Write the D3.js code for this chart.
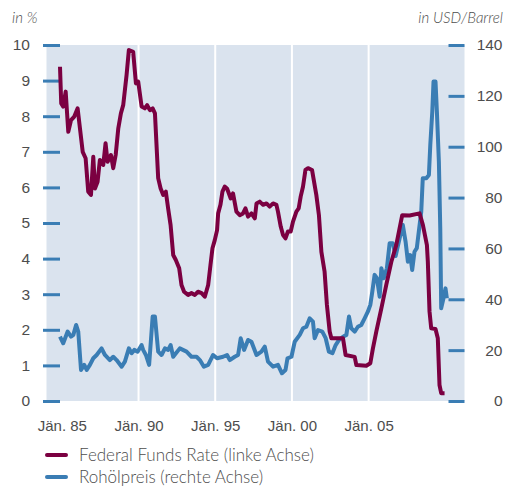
<!DOCTYPE html>
<html>
<head>
<meta charset="utf-8">
<script src="https://cdn.jsdelivr.net/npm/d3@7"></script>
<style>
  body { margin: 0; background: #fff; }
  svg { display: block; font-family: "Lato", "Open Sans", sans-serif; font-weight: 300; }
</style>
</head>
<body>
<div id="chart"></div>
<script>
// Federal Funds Rate in % [year, value]
const fedFunds = [
  [1984.88, 9.39], [1984.96, 8.36], [1985.09, 8.27], [1985.25, 8.69], [1985.42, 7.56],
  [1985.60, 7.89], [1985.81, 7.99], [1986.03, 8.22], [1986.18, 7.66], [1986.36, 7.00],
  [1986.55, 6.82], [1986.72, 5.88], [1986.90, 5.79], [1987.05, 6.86], [1987.16, 5.97],
  [1987.33, 6.16], [1987.48, 6.77], [1987.70, 6.63], [1987.85, 7.24], [1987.98, 6.72],
  [1988.20, 6.91], [1988.35, 6.54], [1988.51, 6.91], [1988.68, 7.66], [1988.85, 8.08],
  [1989.00, 8.31], [1989.22, 9.16], [1989.37, 9.86], [1989.65, 9.81], [1989.83, 8.92],
  [1989.98, 8.97], [1990.20, 8.27], [1990.41, 8.22], [1990.56, 8.31], [1990.74, 8.17],
  [1990.92, 8.22], [1991.07, 8.08], [1991.28, 6.26], [1991.44, 5.97], [1991.61, 5.79],
  [1991.78, 5.88], [1991.93, 5.41], [1992.09, 4.94], [1992.26, 4.10], [1992.43, 3.96],
  [1992.65, 3.73], [1992.80, 3.26], [1992.97, 3.07], [1993.23, 2.98], [1993.45, 3.03],
  [1993.67, 2.98], [1993.88, 3.07], [1994.11, 3.03], [1994.32, 2.93], [1994.54, 3.26],
  [1994.69, 3.82], [1994.82, 4.29], [1994.97, 4.52], [1995.12, 4.80], [1995.19, 5.27],
  [1995.34, 5.51], [1995.47, 5.88], [1995.62, 6.02], [1995.77, 5.97], [1996.01, 5.69],
  [1996.16, 5.83], [1996.38, 5.32], [1996.60, 5.22], [1996.81, 5.27], [1996.97, 5.41],
  [1997.14, 5.18], [1997.36, 5.27], [1997.58, 5.13], [1997.69, 5.55], [1997.90, 5.60],
  [1998.12, 5.51], [1998.34, 5.55], [1998.55, 5.46], [1998.77, 5.55], [1998.99, 5.51],
  [1999.09, 5.32], [1999.27, 4.90], [1999.42, 4.66], [1999.58, 4.57], [1999.74, 4.76],
  [1999.92, 4.76], [2000.07, 5.04], [2000.29, 5.32], [2000.44, 5.41], [2000.57, 5.74],
  [2000.72, 6.02], [2000.88, 6.49], [2001.05, 6.54], [2001.31, 6.49], [2001.59, 5.79],
  [2001.76, 5.22], [2001.92, 4.19], [2002.13, 3.63], [2002.28, 2.70], [2002.46, 1.95],
  [2002.57, 1.76], [2003.33, 1.76], [2003.50, 1.29], [2004.09, 1.24], [2004.20, 1.01],
  [2004.85, 0.99], [2005.11, 1.06], [2005.28, 1.48], [2005.50, 1.95], [2005.83, 2.60],
  [2006.15, 3.26], [2006.48, 3.91], [2006.80, 4.38], [2007.19, 5.22], [2007.67, 5.21],
  [2008.32, 5.27], [2008.54, 4.94], [2008.80, 4.38], [2008.86, 3.91], [2008.97, 2.51],
  [2009.08, 2.04], [2009.36, 2.02], [2009.51, 1.76], [2009.62, 0.45], [2009.73, 0.22],
  [2009.95, 0.22]
];

// Rohölpreis in USD/Barrel [year, value]
const oilPrice = [
  [1984.88, 25.3], [1985.09, 22.7], [1985.38, 27.3], [1985.60, 25.3], [1985.75, 26.0],
  [1985.93, 29.9], [1986.07, 27.3], [1986.25, 12.2], [1986.46, 14.2], [1986.62, 12.2],
  [1986.83, 14.2], [1987.05, 16.8], [1987.27, 18.1], [1987.59, 20.7], [1987.81, 18.1],
  [1988.13, 16.1], [1988.35, 17.4], [1988.57, 16.1], [1988.90, 13.5], [1989.11, 15.5],
  [1989.37, 20.7], [1989.55, 18.8], [1989.72, 20.1], [1989.94, 19.4], [1990.20, 22.0],
  [1990.30, 20.1], [1990.48, 18.1], [1990.69, 14.2], [1990.92, 33.2], [1991.07, 33.2],
  [1991.28, 19.4], [1991.50, 18.1], [1991.72, 20.7], [1991.93, 20.1], [1992.09, 22.0],
  [1992.26, 17.4], [1992.69, 20.7], [1993.13, 19.4], [1993.45, 17.4], [1993.78, 17.4],
  [1994.00, 16.1], [1994.26, 13.5], [1994.54, 14.2], [1994.86, 18.1], [1995.12, 16.8],
  [1995.51, 17.4], [1995.77, 18.1], [1995.95, 16.1], [1996.27, 17.4], [1996.49, 18.1],
  [1996.66, 24.7], [1996.88, 20.1], [1997.14, 24.0], [1997.36, 23.3], [1997.69, 18.1],
  [1998.01, 19.4], [1998.23, 21.4], [1998.44, 15.5], [1998.77, 13.5], [1999.09, 14.2],
  [1999.35, 10.9], [1999.58, 12.2], [1999.71, 16.8], [1999.97, 17.4], [2000.18, 23.3],
  [2000.51, 26.0], [2000.72, 28.6], [2000.94, 29.2], [2001.16, 32.5], [2001.37, 31.2],
  [2001.48, 24.7], [2001.70, 27.9], [2001.98, 27.3], [2002.20, 24.7], [2002.41, 19.4],
  [2002.64, 18.8], [2002.85, 22.0], [2003.07, 24.0], [2003.33, 25.3], [2003.55, 26.0],
  [2003.72, 33.2], [2003.87, 28.6], [2004.09, 27.3], [2004.30, 29.2], [2004.52, 29.9],
  [2004.74, 32.5], [2004.95, 35.1], [2005.11, 37.8], [2005.24, 43.0], [2005.39, 49.6],
  [2005.54, 48.3], [2005.72, 41.0], [2005.83, 52.2], [2005.98, 48.3], [2006.19, 52.2],
  [2006.37, 62.0], [2006.58, 62.0], [2006.76, 57.0], [2007.02, 64.0], [2007.23, 69.2],
  [2007.41, 62.6], [2007.56, 54.8], [2007.71, 57.4], [2007.84, 51.5], [2007.99, 58.7],
  [2008.14, 60.1], [2008.27, 66.6], [2008.43, 74.4], [2008.53, 87.6], [2008.76, 87.6],
  [2008.93, 88.9], [2009.02, 100.7], [2009.15, 113.8], [2009.23, 125.6], [2009.36, 125.6],
  [2009.45, 113.8], [2009.58, 94.1], [2009.67, 67.9], [2009.73, 36.5], [2009.88, 40.4],
  [2010.01, 44.3], [2010.10, 40.4]
];

const leftTicks = [0, 1, 2, 3, 4, 5, 6, 7, 8, 9, 10];
const rightTicks = [0, 20, 40, 60, 80, 100, 120, 140];
const yearTicks = [1985, 1990, 1995, 2000, 2005];
const yearLabels = ["Jän. 85", "Jän. 90", "Jän. 95", "Jän. 00", "Jän. 05"];
const panelBreaks = [1990, 1995, 2000, 2005];
const legendLabels = ["Federal Funds Rate (linke Achse)", "Rohölpreis (rechte Achse)"];

const width = 509;
const height = 490;
const red = "#7b0041";
const blue = "#3a7db4";
const textColor = "#4d4d4d";

const svg = d3.select("#chart")
  .append("svg")
  .attr("width", width)
  .attr("height", height);

const x = d3.scaleLinear().domain([1984, 2011.25]).range([46.5, 464.5]);
const yL = d3.scaleLinear().domain([0, 10]).range([401, 45]);
const yR = d3.scaleLinear().domain([0, 140]).range([401, 45]);

// plot background
svg.append("rect")
  .attr("x", x(1984))
  .attr("y", yL(10))
  .attr("width", x(2011.25) - x(1984))
  .attr("height", yL(0) - yL(10))
  .attr("fill", "#dae3ee");

// white separators between the 5-year panels
svg.selectAll(".sep")
  .data(panelBreaks)
  .enter()
  .append("line")
  .attr("x1", d => x(d))
  .attr("x2", d => x(d))
  .attr("y1", yL(10))
  .attr("y2", yL(0))
  .attr("stroke", "#fff")
  .attr("stroke-width", 2);

// left axis
const leftAxis = svg.append("g")
  .attr("transform", "translate(60,0)")
  .call(d3.axisLeft(yL).tickValues(leftTicks).tickSize(17).tickPadding(13).tickFormat(d3.format("d")));

// right axis
const rightAxis = svg.append("g")
  .attr("transform", "translate(448.5,0)")
  .call(d3.axisRight(yR).tickValues(rightTicks).tickSize(16).tickFormat(d3.format("d")));
rightAxis.selectAll("text").attr("x", 54).attr("text-anchor", "end");

[leftAxis, rightAxis].forEach(g => {
  g.select(".domain").remove();
  g.selectAll(".tick line").attr("stroke", blue).attr("stroke-width", 3);
  g.selectAll("text").attr("fill", textColor).style("font-size", "15.5px");
});

// bottom labels
const bottomAxis = svg.append("g")
  .attr("transform", "translate(0,401)")
  .call(d3.axisBottom(x).tickValues(yearTicks).tickSize(0).tickPadding(19)
    .tickFormat((d, i) => yearLabels[i]));
bottomAxis.select(".domain").remove();
bottomAxis.selectAll("text").attr("fill", textColor).style("font-size", "15px");

// axis units
svg.append("text")
  .attr("x", 12).attr("y", 23)
  .attr("fill", textColor)
  .style("font-size", "15px").style("font-style", "italic")
  .text("in %");
svg.append("text")
  .attr("x", 503).attr("y", 23)
  .attr("text-anchor", "end")
  .attr("fill", textColor)
  .style("font-size", "15px").style("font-style", "italic")
  .text("in USD/Barrel");

// lines
const oilLine = d3.line().x(d => x(d[0])).y(d => yR(d[1]));
const fedLine = d3.line().x(d => x(d[0])).y(d => yL(d[1]));

svg.append("path")
  .datum(oilPrice)
  .attr("d", oilLine)
  .attr("fill", "none")
  .attr("stroke", blue)
  .attr("stroke-width", 4)
  .attr("stroke-linejoin", "round");

svg.append("path")
  .datum(fedFunds)
  .attr("d", fedLine)
  .attr("fill", "none")
  .attr("stroke", red)
  .attr("stroke-width", 4)
  .attr("stroke-linejoin", "round");

// legend
const legend = svg.append("g");
legendLabels.forEach((label, i) => {
  const ly = 455 + i * 22;
  legend.append("line")
    .attr("x1", 47).attr("x2", 66)
    .attr("y1", ly).attr("y2", ly)
    .attr("stroke", i === 0 ? red : blue)
    .attr("stroke-width", 4)
    .attr("stroke-linecap", "round");
  legend.append("text")
    .attr("x", 79).attr("y", ly + 6)
    .attr("fill", textColor)
    .style("font-size", "17px")
    .text(label);
});
</script>
</body>
</html>
